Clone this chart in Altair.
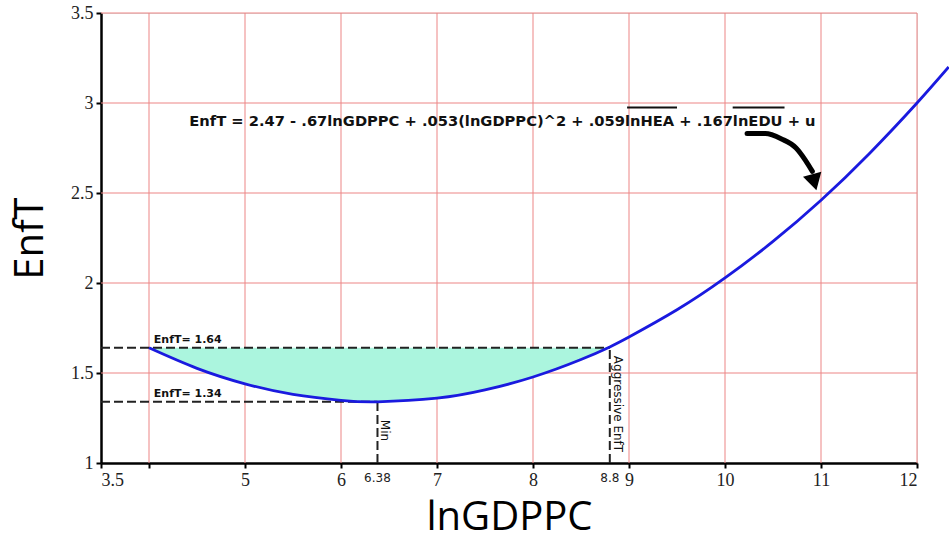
import altair as alt
import pandas as pd

# ---- data ----
curve_x = [4.0, 4.5, 5.0, 5.5, 6.0, 6.38, 7.0, 7.5, 8.0, 8.5, 8.8, 9.0, 9.5, 10.0, 10.5, 11.0, 11.5, 12.0, 12.33]
curve_y = [1.64, 1.526, 1.44, 1.381, 1.348, 1.34, 1.36, 1.406, 1.478, 1.575, 1.645, 1.70, 1.851, 2.028, 2.231, 2.46, 2.717, 3.00, 3.20]

grid_x = [4, 5, 6, 7, 8, 9, 10, 11, 12]
grid_y = [1.5, 2, 2.5, 3, 3.5]
x_ticks = [3.5, 4, 5, 6, 7, 8, 9, 10, 11, 12]
y_ticks = [1, 1.5, 2, 2.5, 3, 3.5]

enft_high = 1.64
enft_min = 1.34
x_min = 6.38
x_aggr = 8.8

special_x = [6.38, 8.8]
special_lab = ["6.38", "8.8"]

equation = "EnfT = 2.47 - .67lnGDPPC + .053(lnGDPPC)^2 + .059lnHEA + .167lnEDU + u"
eq_x, eq_y = 4.42, 2.872
over_x1 = [8.98, 10.08]
over_x2 = [9.50, 10.62]
over_y = 2.975

arrow_x = [10.23, 10.42, 10.59, 10.74, 10.84, 10.91]
arrow_y = [2.83, 2.83, 2.80, 2.75, 2.68, 2.62]
arrow_head = (10.93, 2.56)

XMIN, XMAX, YMIN, YMAX = 3.5, 12, 1, 3.5

curve = pd.DataFrame({"x": curve_x, "y": curve_y})
fill = curve[(curve.x >= 4.0) & (curve.x <= x_aggr)]

xs = alt.Scale(domain=[XMIN, XMAX], nice=False, zero=False)
ys = alt.Scale(domain=[YMIN, YMAX], nice=False, zero=False)

xaxis = alt.Axis(values=x_ticks, labelExpr="datum.value == 4 ? '' : datum.label", format="~g",
                 title="lnGDPPC", grid=False, domainColor="black", domainWidth=2.5,
                 tickColor="black", tickWidth=2, tickSize=5, labelFont="Liberation Serif",
                 labelFontSize=18, labelColor="#222", labelPadding=3,
                 titleFont="Open Sans", titleFontSize=40, titleFontWeight="normal",
                 titleColor="black", titlePadding=8)
yaxis = alt.Axis(values=y_ticks, format="~g", title="EnfT", grid=False, domainColor="black", domainWidth=2.5,
                 tickColor="black", tickWidth=2, tickSize=5, labelFont="Liberation Serif",
                 labelFontSize=18, labelColor="#222", labelPadding=3,
                 titleFont="Open Sans", titleFontSize=40, titleFontWeight="normal",
                 titleColor="black", titlePadding=20)

def X(f):
    return alt.X(f, type="quantitative", scale=xs, axis=xaxis)

def Y(f):
    return alt.Y(f, type="quantitative", scale=ys, axis=yaxis)

gridc = "#ec8585"

vgrid = alt.Chart(pd.DataFrame({"x": grid_x})).mark_rule(color=gridc, strokeWidth=1).encode(
    x=X("x"), y=alt.datum(YMIN), y2=alt.datum(YMAX))
hgrid = alt.Chart(pd.DataFrame({"y": grid_y})).mark_rule(color=gridc, strokeWidth=1).encode(
    y=Y("y"), x=alt.datum(XMIN), x2=alt.datum(XMAX))

area = alt.Chart(fill).mark_area(color="#abf5de", opacity=1, interpolate="natural").encode(
    x=X("x"), y=Y("y"), y2=alt.datum(enft_high))

segs = pd.DataFrame({
    "x": [XMIN, XMIN, x_min, x_aggr],
    "x2": [x_aggr, x_min, x_min, x_aggr],
    "y": [enft_high, enft_min, YMIN, YMIN],
    "y2": [enft_high, enft_min, enft_min, enft_high],
})
dashes = alt.Chart(segs).mark_rule(color="#222", strokeWidth=2, strokeDash=[9, 4]).encode(
    x=X("x"), x2="x2", y=Y("y"), y2="y2")

line = alt.Chart(curve).mark_line(color="#1a1adf", strokeWidth=2.8, clip=False,
                                   interpolate="natural").encode(x=X("x"), y=Y("y"))

lab_df = pd.DataFrame({"x": [4.05, 4.05], "y": [enft_high, enft_min],
                       "t": ["EnfT= 1.64", "EnfT= 1.34"]})
labs = alt.Chart(lab_df).mark_text(align="left", baseline="bottom", dy=-3, fontSize=11,
                                   fontWeight="bold", font="DejaVu Sans", color="#111").encode(
    x=X("x"), y=Y("y"), text="t")

rot_df = pd.DataFrame({"x": [x_min, x_aggr], "y": [enft_min, enft_high],
                       "t": ["Min", "Aggressive EnfT"]})
rot_min = alt.Chart(rot_df.iloc[[0]]).mark_text(align="left", baseline="bottom", angle=90, fontSize=12,
                                  font="DejaVu Sans", color="#111", dx=18, dy=-1).encode(
    x=X("x"), y=Y("y"), text="t")
rot_ag = alt.Chart(rot_df.iloc[[1]]).mark_text(align="left", baseline="bottom", angle=90, fontSize=12,
                                  font="DejaVu Sans", color="#111", dx=8, dy=-1).encode(
    x=X("x"), y=Y("y"), text="t")

spec = alt.Chart(pd.DataFrame({"x": special_x, "t": special_lab})).mark_text(
    baseline="top", dy=10, fontSize=12, font="DejaVu Sans", color="#222").encode(
    x=X("x"), y=alt.datum(YMIN), text="t")

eq = alt.Chart(pd.DataFrame({"x": [eq_x], "y": [eq_y], "t": [equation]})).mark_text(
    align="left", baseline="alphabetic", fontSize=14.7, fontWeight="bold",
    font="DejaVu Sans", color="#111").encode(x=X("x"), y=Y("y"), text="t")

over = alt.Chart(pd.DataFrame({"x": over_x1, "x2": over_x2, "y": [over_y, over_y]})).mark_rule(
    color="#111", strokeWidth=2).encode(x=X("x"), x2="x2", y=Y("y"))

arrow = alt.Chart(pd.DataFrame({"x": arrow_x, "y": arrow_y, "o": list(range(len(arrow_x)))})).mark_line(
    color="black", strokeWidth=5, strokeCap="round", interpolate="monotone").encode(
    x=X("x"), y=Y("y"), order="o")
head = alt.Chart(pd.DataFrame({"x": [arrow_head[0]], "y": [arrow_head[1]]})).mark_point(
    shape="triangle-down", filled=True, color="black", size=360, opacity=1, angle=345).encode(
    x=X("x"), y=Y("y"))

chart = alt.layer(vgrid, hgrid, area, dashes, line, labs, rot_min, rot_ag, spec, eq, over,
                  arrow, head).properties(
    width=816, height=450,
    autosize=alt.AutoSizeParams(type="none"),
    padding={"left": 101, "top": 13, "right": 32, "bottom": 77},
).configure_view(stroke=None).configure(background="white")

chart.save("out.html", embed_options={"renderer": "svg", "actions": False})
